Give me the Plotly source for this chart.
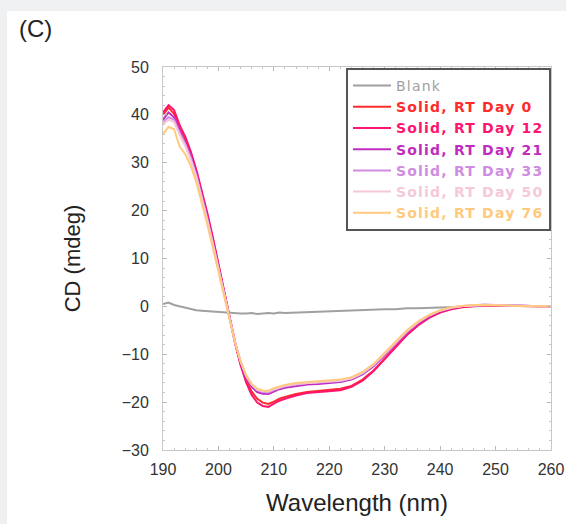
import plotly.graph_objects as go

wavelength = [190,191,192,193,194,195,196,197,198,199,200,201,202,203,204,205,206,207,208,209,210,211,212,
              214,216,218,220,222,224,226,228,230,232,234,236,238,240,242,244,246,248,250,252,254,256,258,260]

blank = [0.5,0.8,0.3,0.0,-0.3,-0.5,-0.8,-0.9,-1.0,-1.1,-1.2,-1.3,-1.3,-1.4,-1.5,-1.5,-1.4,-1.6,-1.5,-1.4,-1.5,-1.3,-1.4,
         -1.3,-1.2,-1.2,-1.0,-1.0,-0.9,-0.8,-0.7,-0.6,-0.6,-0.4,-0.4,-0.3,-0.2,-0.2,0.0,0.0,0.1,0.1,0.1,0.1,0.1,0.1,0.1]
day0 = [40.0,41.5,40.2,37.8,35.0,32.0,28.2,23.8,19.0,14.0,8.7,3.2,-2.3,-7.5,-12.0,-15.4,-17.8,-19.3,-20.1,-20.4,-19.9,-19.3,-18.9,
        -18.3,-17.9,-17.7,-17.5,-17.2,-16.6,-15.3,-13.4,-10.9,-8.3,-5.9,-3.9,-2.3,-1.2,-0.5,-0.1,0.1,0.2,0.2,0.1,0.1,0.0,0.0,0.0]
day12 = [40.5,42.0,41.0,37.8,35.5,32.4,28.6,24.3,19.5,14.4,9.0,3.4,-2.2,-7.7,-12.3,-15.9,-18.5,-20.1,-20.8,-21.0,-20.3,-19.7,-19.3,
         -18.6,-18.1,-17.9,-17.8,-17.5,-16.8,-15.5,-13.5,-11.0,-8.4,-6.0,-4.0,-2.4,-1.3,-0.6,-0.2,0.1,0.2,0.2,0.2,0.1,0.1,0.0,0.0]
day21 = [39.0,40.5,39.5,36.8,34.5,31.5,27.8,23.4,18.6,13.5,8.2,2.8,-2.6,-7.6,-11.8,-14.9,-16.8,-17.9,-18.25,-18.3,-17.8,-17.3,-17.0,
         -16.6,-16.3,-16.2,-16.0,-15.8,-15.3,-14.2,-12.5,-10.2,-7.8,-5.5,-3.6,-2.1,-1.0,-0.4,0.0,0.2,0.3,0.3,0.2,0.1,0.1,0.0,0.0]
day33 = [38.5,39.5,39.0,36.3,34.0,31.1,27.4,23.0,18.2,13.2,8.0,2.6,-2.6,-7.5,-11.5,-14.6,-16.4,-17.5,-17.9,-18.0,-17.5,-17.0,-16.7,
         -16.3,-16.0,-15.9,-15.8,-15.6,-15.1,-14.0,-12.3,-10.0,-7.6,-5.3,-3.4,-1.9,-0.9,-0.3,0.1,0.3,0.4,0.3,0.2,0.1,0.0,0.0,0.0]
day50 = [38.0,39.0,38.5,35.8,33.5,30.6,27.1,22.8,18.0,13.0,7.8,2.5,-2.7,-7.5,-11.5,-14.5,-16.3,-17.4,-17.75,-17.8,-17.3,-16.9,-16.6,
         -16.2,-16.0,-15.8,-15.7,-15.5,-15.0,-13.9,-12.2,-9.9,-7.5,-5.2,-3.3,-1.9,-0.9,-0.3,0.1,0.2,0.3,0.3,0.2,0.1,0.0,0.0,0.0]
day76 = [36.0,37.5,37.0,33.4,31.8,29.4,26.0,21.8,17.1,12.2,7.1,2.0,-3.0,-7.6,-11.5,-14.4,-16.2,-17.2,-17.55,-17.6,-17.1,-16.7,-16.4,
         -16.0,-15.8,-15.6,-15.5,-15.3,-14.8,-13.7,-12.0,-9.7,-7.3,-5.0,-3.2,-1.8,-0.8,-0.2,0.1,0.3,0.3,0.3,0.2,0.1,0.0,0.0,0.0]

series_names = ["Blank", "Solid, RT Day 0", "Solid, RT Day 12", "Solid, RT Day 21",
                "Solid, RT Day 33", "Solid, RT Day 50", "Solid, RT Day 76"]
series_values = [blank, day0, day12, day21, day33, day50, day76]
series_colors = ["#a0a0a0", "#ff2b2b", "#ff1470", "#c02cc0", "#cf8ce0", "#f5c8da", "#ffc97e"]

x_ticks = [190, 200, 210, 220, 230, 240, 250, 260]
y_ticks = [-30, -20, -10, 0, 10, 20, 30, 40, 50]

FONT = "Liberation Sans, Arial, sans-serif"

fig = go.Figure()
for name, vals, col in zip(series_names, series_values, series_colors):
    label = name if name == "Blank" else "<b>" + name + "</b>"
    fig.add_trace(go.Scatter(
        x=wavelength, y=vals, mode="lines",
        line=dict(color=col, width=2),
        name='<span style="color:%s;letter-spacing:1.2px">%s</span>' % (col, label),
    ))

W, H = 566, 524
ml, mr, mt, mb = 163, 15, 67, 74
pw, ph = W - ml - mr, H - mt - mb

# white panel, light gray strip on top/left
fig.add_shape(type="rect", xref="paper", yref="paper", layer="below",
              x0=(7 - ml) / pw, x1=(W - ml + 5) / pw,
              y0=-(mb + 5) / ph, y1=((H - mb) - 11) / ph,
              fillcolor="white", line=dict(width=0))

axis_common = dict(
    showgrid=False, zeroline=False, showline=True, linecolor="#c8c8c8", linewidth=1,
    mirror="ticks", ticks="inside", ticklen=4, tickcolor="#b8b8b8",
    tickfont=dict(family=FONT, size=16, color="#333333"),
    minor=dict(ticks="inside", ticklen=2, tickcolor="#c8c8c8", dtick=2),
)

fig.update_xaxes(range=[190, 260], tickvals=x_ticks, ticklabelstandoff=5, **axis_common,
                 title=dict(text="Wavelength (nm)", standoff=16,
                            font=dict(family=FONT, size=24, color="#222222")))
fig.update_yaxes(range=[-30, 50], tickvals=y_ticks, ticklabelstandoff=10, **axis_common,
                 title=dict(text="CD (mdeg)", standoff=34,
                            font=dict(family=FONT, size=22, color="#222222")))

fig.add_annotation(text="(C)", xref="paper", yref="paper",
                   x=(17 - ml) / pw, y=((H - mb) - 29) / ph, xanchor="left", yanchor="middle",
                   showarrow=False, font=dict(family=FONT, size=24, color="#222222"))

fig.update_layout(
    width=W, height=H,
    margin=dict(l=ml, r=mr, t=mt, b=mb, autoexpand=False),
    paper_bgcolor="#eef0f2", plot_bgcolor="white",
    showlegend=True,
    legend=dict(x=(346 - ml) / pw, y=((H - mb) - 68) / ph, xanchor="left", yanchor="top",
                bgcolor="white", bordercolor="#555555", borderwidth=2,
                font=dict(family="DejaVu Sans, sans-serif", size=14, color="#333333"),
                tracegroupgap=0, itemwidth=38),
)

fig.write_html("out.html", config={"displayModeBar": False},
               post_script="document.body.style.margin='0px';")
